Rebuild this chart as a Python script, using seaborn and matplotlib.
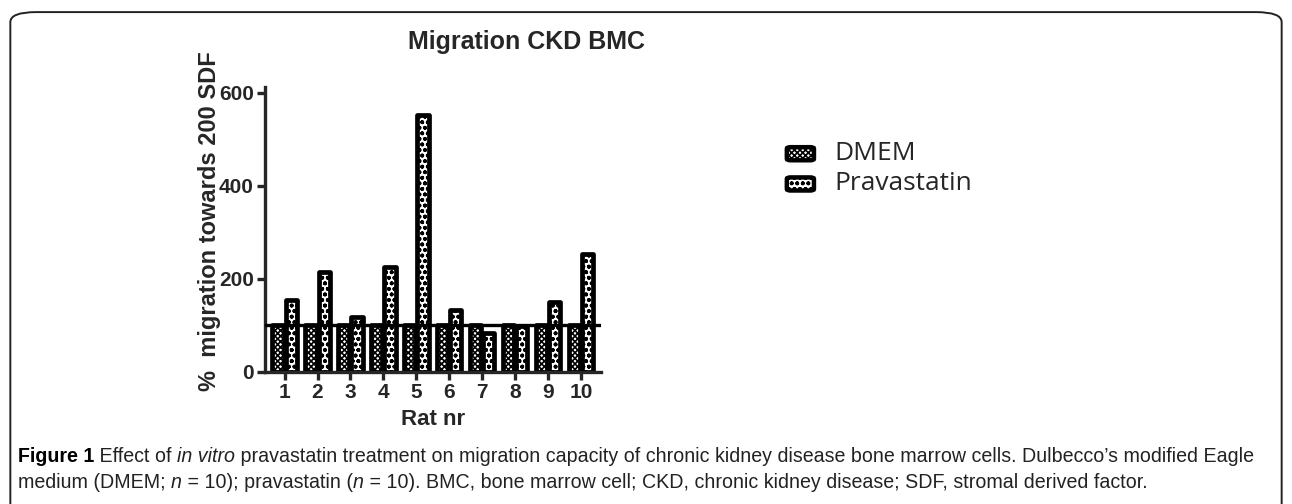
import matplotlib
matplotlib.use("Agg")
from matplotlib import pyplot as plt
from matplotlib.patches import FancyBboxPatch
import seaborn as sns
import pandas as pd

# data
rats = ["1", "2", "3", "4", "5", "6", "7", "8", "9", "10"]
dmem = [100, 100, 100, 100, 100, 100, 100, 100, 100, 100]
prava = [155, 215, 118, 225, 553, 133, 83, 98, 151, 254]
groups = ["DMEM", "Pravastatin"]
yticks = [0, 200, 400, 600]

df = pd.DataFrame({
    "rat": rats * 2,
    "value": dmem + prava,
    "group": [groups[0]] * len(rats) + [groups[1]] * len(rats),
})

sns.set_style("white")
plt.rcParams["font.family"] = ["Liberation Sans", "DejaVu Sans"]
plt.rcParams["hatch.linewidth"] = 1.2

fig = plt.figure(figsize=(12.92, 5.04), dpi=100)
ax = fig.add_axes([0.205, 0.262, 0.260, 0.565])

sns.barplot(data=df, x="rat", y="value", hue="group", order=rats,
            hue_order=groups, palette=["white", "white"], width=0.8,
            gap=0.15, edgecolor="black", linewidth=3.4, saturation=1,
            legend=False, ax=ax)

hatches = {"DMEM": "xxxxxx", "Pravastatin": "ooo"}
for cont, g in zip(ax.containers, groups):
    for bar in cont:
        bar.set_hatch(hatches[g])
        bar.set_joinstyle("round")

ax.axhline(100, color="black", lw=2.4, zorder=5)

ax.set_ylim(0, 612)
ax.set_xlim(-0.6, 9.6)
ax.set_yticks(yticks)
for s in ["top", "right"]:
    ax.spines[s].set_visible(False)
for s in ["left", "bottom"]:
    ax.spines[s].set_linewidth(2.4)
ax.tick_params(axis="both", length=6, width=2.4, direction="out",
               bottom=True, left=True, pad=2)
for lab in ax.get_xticklabels() + ax.get_yticklabels():
    lab.set_fontweight("bold")
    lab.set_fontsize(15)

ax.set_xlabel("Rat nr", fontsize=16, fontweight="bold", labelpad=5)
ax.set_ylabel("%  migration towards 200 SDF", fontsize=17,
              fontweight="bold", va="center")
ax.yaxis.set_label_coords(-0.165, 0.53)
fig.text(527 / 1292, 1 - 42 / 504, "Migration CKD BMC", fontsize=18,
         fontweight="bold", ha="center", va="center")

# legend drawn by hand next to the plot
for i, g in enumerate(groups):
    y = 0.695 - i * 0.06
    fig.patches.append(FancyBboxPatch((0.609, y - 0.013), 0.021, 0.026,
                                      boxstyle="round,pad=0,rounding_size=0.003",
                                      transform=fig.transFigure, facecolor="white",
                                      edgecolor="black", linewidth=3.2,
                                      hatch=hatches[g]))
    fig.text(0.646, y, g, fontsize=19, family="Open Sans", va="center")

# rounded frame around the figure
fig.patches.append(FancyBboxPatch((0.008, -0.2), 0.984, 1.176,
                                  boxstyle="round,pad=0,rounding_size=0.02",
                                  transform=fig.transFigure, facecolor="none",
                                  edgecolor="#222222", linewidth=1.4))

# caption with mixed styles
lines = [
    [("Figure 1", "bold", "normal"), (" Effect of ", "normal", "normal"),
     ("in vitro", "normal", "italic"),
     (" pravastatin treatment on migration capacity of chronic kidney disease bone marrow cells. Dulbecco\u2019s modified Eagle",
      "normal", "normal")],
    [("medium (DMEM; ", "normal", "normal"), ("n", "normal", "italic"),
     (" = 10); pravastatin (", "normal", "normal"), ("n", "normal", "italic"),
     (" = 10). BMC, bone marrow cell; CKD, chronic kidney disease; SDF, stromal derived factor.",
      "normal", "normal")],
]
fig.canvas.draw()
renderer = fig.canvas.get_renderer()
for li, runs in enumerate(lines):
    x = 18 / 1292
    y = 1 - (456 + li * 26) / 504
    for txt, w, st in runs:
        t = fig.text(x, y, txt, fontsize=14.1, fontweight=w, fontstyle=st,
                     va="center", ha="left",
                     color="black" if w == "bold" else "#222222")
        bb = t.get_window_extent(renderer)
        x += bb.width / fig.bbox.width

fig.savefig("out.png", dpi=100)
